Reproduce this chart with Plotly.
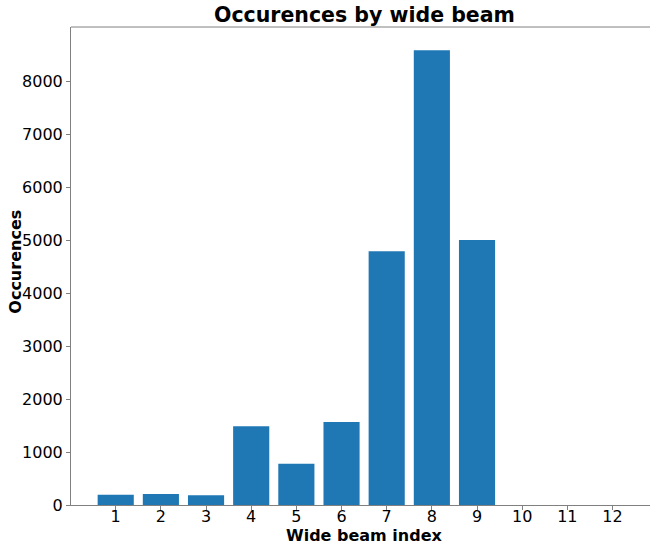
import plotly.graph_objects as go

beam_index = list(range(1, 13))
occurrences = [194, 207, 183, 1490, 780, 1566, 4792, 8590, 5006, 0, 0, 0]
y_ticks = [0, 1000, 2000, 3000, 4000, 5000, 6000, 7000, 8000]

fig = go.Figure()
fig.add_trace(go.Bar(x=beam_index, y=occurrences, width=0.8,
                     marker=dict(color="#1f77b4", line=dict(width=0))))

axis_col = "#808080"
fig.update_layout(
    width=650, height=544,
    margin=dict(l=71, r=0, t=27, b=39),
    plot_bgcolor="white", paper_bgcolor="white",
    font=dict(family="DejaVu Sans", size=16, color="black"),
    showlegend=False,
    xaxis=dict(range=[0.01, 12.83], tickmode="array", tickvals=beam_index,
               ticktext=[str(v) for v in beam_index],
               ticks="outside", ticklen=4, tickcolor=axis_col,
               ticklabelstandoff=-7,
               showline=True, linecolor=axis_col, linewidth=1,
               showgrid=False, zeroline=False),
    yaxis=dict(range=[0, 9030], tickmode="array", tickvals=y_ticks,
               ticks="outside", ticklen=4, tickcolor=axis_col,
               showline=True, linecolor=axis_col, linewidth=1,
               showgrid=False, zeroline=False),
    shapes=[dict(type="line", xref="paper", yref="paper", x0=0, x1=1, y0=1, y1=1,
                 line=dict(color=axis_col, width=1))],
    annotations=[
        dict(text="<b>Occurences by wide beam</b>", xref="paper", yref="paper",
             x=0.507, y=1, yshift=12, showarrow=False, xanchor="center", yanchor="middle",
             font=dict(size=20.5)),
        dict(text="<b>Wide beam index</b>", xref="paper", yref="paper",
             x=0.507, y=0, yshift=-30, showarrow=False, xanchor="center", yanchor="middle",
             font=dict(size=16)),
        dict(text="<b>Occurences</b>", xref="paper", yref="paper",
             x=0, xshift=-55, y=0.509, showarrow=False, xanchor="center", yanchor="middle",
             textangle=-90, font=dict(size=16)),
    ],
)

fig.write_html("out.html")
